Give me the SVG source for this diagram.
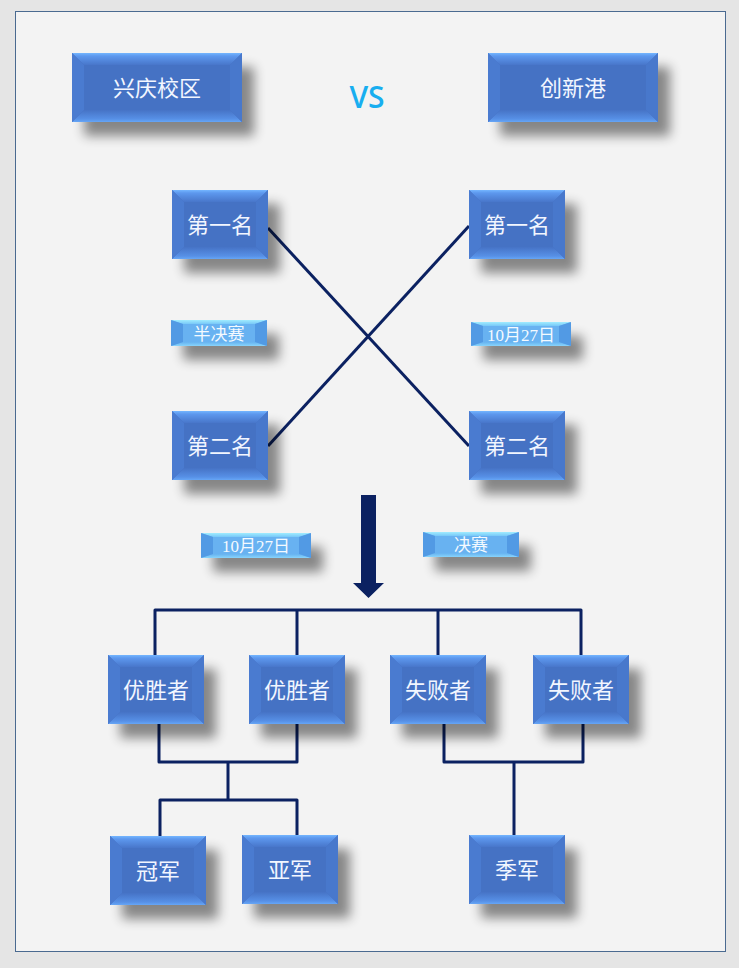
<svg xmlns="http://www.w3.org/2000/svg" width="739" height="968" viewBox="0 0 739 968">
<defs>
<linearGradient id="gT" x1="0" y1="0" x2="0" y2="1"><stop offset="0" stop-color="#74b6ff"/><stop offset="0.25" stop-color="#5d98ee"/><stop offset="1" stop-color="#4876ca"/></linearGradient>
<linearGradient id="gB" x1="0" y1="0" x2="0" y2="1"><stop offset="0" stop-color="#4673c6"/><stop offset="0.75" stop-color="#5790e6"/><stop offset="1" stop-color="#66a6f6"/></linearGradient>
<linearGradient id="lT" x1="0" y1="0" x2="0" y2="1"><stop offset="0" stop-color="#a0ecff"/><stop offset="1" stop-color="#78c8f8"/></linearGradient>
<linearGradient id="lB" x1="0" y1="0" x2="0" y2="1"><stop offset="0" stop-color="#66b2f0"/><stop offset="1" stop-color="#88d4fc"/></linearGradient>
<filter id="sh" x="-40%" y="-50%" width="200%" height="260%">
<feGaussianBlur in="SourceAlpha" stdDeviation="6"/>
<feOffset dx="12" dy="14"/>
<feComponentTransfer><feFuncA type="linear" slope="0.45"/></feComponentTransfer>
<feMerge><feMergeNode/><feMergeNode in="SourceGraphic"/></feMerge>
</filter>
</defs>
<style>
.base{fill:#4472c4;filter:url(#sh)}
.t{fill:url(#gT)}
.b{fill:url(#gB)}
.l{fill:#4a7bd0}
.r{fill:#4878cc}
.lbase{fill:#67b2f1;filter:url(#sh)}
.lt{fill:url(#lT)}
.lb{fill:url(#lB)}
.ll{fill:#529ae4}
.lr{fill:#529ae4}
.tx{font-family:"Liberation Serif","Noto Sans CJK SC",serif;font-size:22px;fill:#f2f6ff;text-anchor:middle;dominant-baseline:central}
.ltx{font-family:"Liberation Serif","Noto Sans CJK SC",serif;font-size:17px;fill:#f4faff;text-anchor:middle;dominant-baseline:central}
.ln{stroke:#0b2161;stroke-width:3;fill:none;stroke-linejoin:round}
</style>
<rect x="0" y="0" width="739" height="968" fill="#e5e5e5"/>
<rect x="15.5" y="11.5" width="710" height="940" fill="#f3f3f3" stroke="#4a6a90" stroke-width="1"/>

<g id="connectors">
<line class="ln" x1="268" y1="228" x2="469" y2="446"/>
<line class="ln" x1="268" y1="446" x2="469" y2="226"/>
<polygon points="361,495 376,495 376,583 384,583 368.5,598 353,583 361,583" fill="#0b2161"/>
<polyline class="ln" points="155,655 155,610 581,610 581,655"/>
<line class="ln" x1="297" y1="610" x2="297" y2="655"/>
<line class="ln" x1="438" y1="610" x2="438" y2="655"/>
<polyline class="ln" points="159,724 159,762 297,762 297,724"/>
<line class="ln" x1="228" y1="762" x2="228" y2="800"/>
<polyline class="ln" points="160,836 160,800 297,800 297,835"/>
<polyline class="ln" points="444,724 444,762 583,762 583,724"/>
<line class="ln" x1="514" y1="762" x2="514" y2="835"/>
</g>

<g id="vs"><text x="367" y="96" font-family="'Open Sans',sans-serif" font-weight="600" font-size="30" fill="#18aef0" text-anchor="middle" dominant-baseline="central">VS</text></g>

<g id="xingqing">
<rect class="base" x="72" y="53" width="170" height="69"/>
<polygon class="t" points="72,53 242,53 230,65 84,65"/>
<polygon class="b" points="72,122 242,122 230,110 84,110"/>
<polygon class="l" points="72,53 84,65 84,110 72,122"/>
<polygon class="r" points="242,53 230,65 230,110 242,122"/>
<text class="tx" x="157" y="88">兴庆校区</text>
</g>
<g id="chuangxin">
<rect class="base" x="488" y="53" width="170" height="69"/>
<polygon class="t" points="488,53 658,53 646,65 500,65"/>
<polygon class="b" points="488,122 658,122 646,110 500,110"/>
<polygon class="l" points="488,53 500,65 500,110 488,122"/>
<polygon class="r" points="658,53 646,65 646,110 658,122"/>
<text class="tx" x="573" y="88">创新港</text>
</g>
<g id="first-left">
<rect class="base" x="172" y="190" width="96" height="69"/>
<polygon class="t" points="172,190 268,190 256,202 184,202"/>
<polygon class="b" points="172,259 268,259 256,247 184,247"/>
<polygon class="l" points="172,190 184,202 184,247 172,259"/>
<polygon class="r" points="268,190 256,202 256,247 268,259"/>
<text class="tx" x="220" y="225">第一名</text>
</g>
<g id="first-right">
<rect class="base" x="469" y="190" width="96" height="69"/>
<polygon class="t" points="469,190 565,190 553,202 481,202"/>
<polygon class="b" points="469,259 565,259 553,247 481,247"/>
<polygon class="l" points="469,190 481,202 481,247 469,259"/>
<polygon class="r" points="565,190 553,202 553,247 565,259"/>
<text class="tx" x="517" y="225">第一名</text>
</g>
<g id="second-left">
<rect class="base" x="172" y="411" width="96" height="69"/>
<polygon class="t" points="172,411 268,411 256,423 184,423"/>
<polygon class="b" points="172,480 268,480 256,468 184,468"/>
<polygon class="l" points="172,411 184,423 184,468 172,480"/>
<polygon class="r" points="268,411 256,423 256,468 268,480"/>
<text class="tx" x="220" y="446">第二名</text>
</g>
<g id="second-right">
<rect class="base" x="469" y="411" width="96" height="69"/>
<polygon class="t" points="469,411 565,411 553,423 481,423"/>
<polygon class="b" points="469,480 565,480 553,468 481,468"/>
<polygon class="l" points="469,411 481,423 481,468 469,480"/>
<polygon class="r" points="565,411 553,423 553,468 565,480"/>
<text class="tx" x="517" y="446">第二名</text>
</g>

<g id="semifinal">
<rect class="lbase" x="171" y="320" width="96" height="26" rx="2"/>
<polygon class="lt" points="171,320 267,320 255,324 183,324"/>
<polygon class="lb" points="171,346 267,346 255,342 183,342"/>
<polygon class="ll" points="171,320 183,324 183,342 171,346"/>
<polygon class="lr" points="267,320 255,324 255,342 267,346"/>
<text class="ltx" x="219" y="334">半决赛</text>
</g>
<g id="date-right">
<rect class="lbase" x="471" y="322" width="100" height="24" rx="2"/>
<polygon class="lt" points="471,322 571,322 559,326 483,326"/>
<polygon class="lb" points="471,346 571,346 559,342 483,342"/>
<polygon class="ll" points="471,322 483,326 483,342 471,346"/>
<polygon class="lr" points="571,322 559,326 559,342 571,346"/>
<text class="ltx" x="521" y="335">10月27日</text>
</g>
<g id="date-left">
<rect class="lbase" x="201" y="533" width="110" height="25" rx="2"/>
<polygon class="lt" points="201,533 311,533 299,537 213,537"/>
<polygon class="lb" points="201,558 311,558 299,554 213,554"/>
<polygon class="ll" points="201,533 213,537 213,554 201,558"/>
<polygon class="lr" points="311,533 299,537 299,554 311,558"/>
<text class="ltx" x="256" y="546">10月27日</text>
</g>
<g id="final">
<rect class="lbase" x="423" y="532" width="96" height="25" rx="2"/>
<polygon class="lt" points="423,532 519,532 507,536 435,536"/>
<polygon class="lb" points="423,557 519,557 507,553 435,553"/>
<polygon class="ll" points="423,532 435,536 435,553 423,557"/>
<polygon class="lr" points="519,532 507,536 507,553 519,557"/>
<text class="ltx" x="471" y="545">决赛</text>
</g>

<g id="winner-1">
<rect class="base" x="108" y="655" width="96" height="69"/>
<polygon class="t" points="108,655 204,655 192,667 120,667"/>
<polygon class="b" points="108,724 204,724 192,712 120,712"/>
<polygon class="l" points="108,655 120,667 120,712 108,724"/>
<polygon class="r" points="204,655 192,667 192,712 204,724"/>
<text class="tx" x="156" y="690">优胜者</text>
</g>
<g id="winner-2">
<rect class="base" x="249" y="655" width="96" height="69"/>
<polygon class="t" points="249,655 345,655 333,667 261,667"/>
<polygon class="b" points="249,724 345,724 333,712 261,712"/>
<polygon class="l" points="249,655 261,667 261,712 249,724"/>
<polygon class="r" points="345,655 333,667 333,712 345,724"/>
<text class="tx" x="297" y="690">优胜者</text>
</g>
<g id="loser-1">
<rect class="base" x="390" y="655" width="96" height="69"/>
<polygon class="t" points="390,655 486,655 474,667 402,667"/>
<polygon class="b" points="390,724 486,724 474,712 402,712"/>
<polygon class="l" points="390,655 402,667 402,712 390,724"/>
<polygon class="r" points="486,655 474,667 474,712 486,724"/>
<text class="tx" x="438" y="690">失败者</text>
</g>
<g id="loser-2">
<rect class="base" x="533" y="655" width="96" height="69"/>
<polygon class="t" points="533,655 629,655 617,667 545,667"/>
<polygon class="b" points="533,724 629,724 617,712 545,712"/>
<polygon class="l" points="533,655 545,667 545,712 533,724"/>
<polygon class="r" points="629,655 617,667 617,712 629,724"/>
<text class="tx" x="581" y="690">失败者</text>
</g>

<g id="champion">
<rect class="base" x="110" y="836" width="96" height="69"/>
<polygon class="t" points="110,836 206,836 194,848 122,848"/>
<polygon class="b" points="110,905 206,905 194,893 122,893"/>
<polygon class="l" points="110,836 122,848 122,893 110,905"/>
<polygon class="r" points="206,836 194,848 194,893 206,905"/>
<text class="tx" x="158" y="871">冠军</text>
</g>
<g id="runnerup">
<rect class="base" x="242" y="835" width="96" height="69"/>
<polygon class="t" points="242,835 338,835 326,847 254,847"/>
<polygon class="b" points="242,904 338,904 326,892 254,892"/>
<polygon class="l" points="242,835 254,847 254,892 242,904"/>
<polygon class="r" points="338,835 326,847 326,892 338,904"/>
<text class="tx" x="290" y="870">亚军</text>
</g>
<g id="third">
<rect class="base" x="469" y="835" width="96" height="69"/>
<polygon class="t" points="469,835 565,835 553,847 481,847"/>
<polygon class="b" points="469,904 565,904 553,892 481,892"/>
<polygon class="l" points="469,835 481,847 481,892 469,904"/>
<polygon class="r" points="565,835 553,847 553,892 565,904"/>
<text class="tx" x="517" y="870">季军</text>
</g>
</svg>
